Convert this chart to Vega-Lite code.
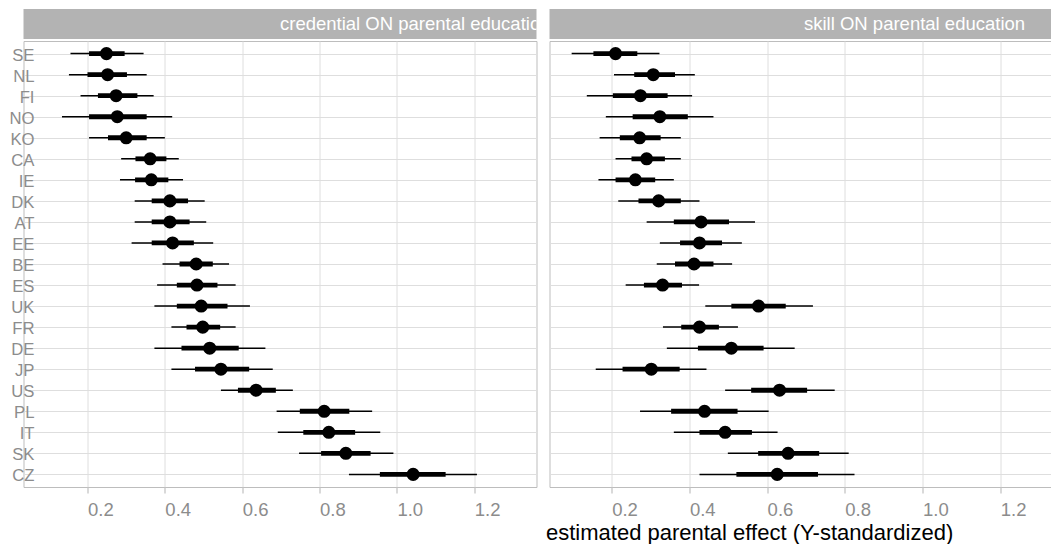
{
  "$schema": "https://vega.github.io/schema/vega-lite/v6.json",
  "padding": {"left": 7.5, "top": 9, "right": 0, "bottom": 0},
  "background": "white",
  "config": {
    "font": "Liberation Sans",
    "view": {"stroke": "#BDBDBD", "strokeWidth": 1}
  },
  "datasets": {
    "panels": [
      {"panel": "credential ON parental education"},
      {"panel": "skill ON parental education"}
    ],
    "estimates": [
      {"panel": "credential", "country": "SE", "est": 0.249, "lo95": 0.156, "hi95": 0.345, "lo68": 0.204, "hi68": 0.296},
      {"panel": "credential", "country": "NL", "est": 0.252, "lo95": 0.152, "hi95": 0.353, "lo68": 0.200, "hi68": 0.302},
      {"panel": "credential", "country": "FI", "est": 0.274, "lo95": 0.182, "hi95": 0.371, "lo68": 0.227, "hi68": 0.329},
      {"panel": "credential", "country": "NO", "est": 0.277, "lo95": 0.134, "hi95": 0.419, "lo68": 0.204, "hi68": 0.353},
      {"panel": "credential", "country": "KO", "est": 0.300, "lo95": 0.204, "hi95": 0.400, "lo68": 0.253, "hi68": 0.353},
      {"panel": "credential", "country": "CA", "est": 0.362, "lo95": 0.287, "hi95": 0.436, "lo68": 0.324, "hi68": 0.404},
      {"panel": "credential", "country": "IE", "est": 0.365, "lo95": 0.284, "hi95": 0.447, "lo68": 0.323, "hi68": 0.409},
      {"panel": "credential", "country": "DK", "est": 0.413, "lo95": 0.322, "hi95": 0.503, "lo68": 0.366, "hi68": 0.460},
      {"panel": "credential", "country": "AT", "est": 0.413, "lo95": 0.322, "hi95": 0.507, "lo68": 0.366, "hi68": 0.464},
      {"panel": "credential", "country": "EE", "est": 0.420, "lo95": 0.314, "hi95": 0.525, "lo68": 0.366, "hi68": 0.475},
      {"panel": "credential", "country": "BE", "est": 0.481, "lo95": 0.394, "hi95": 0.566, "lo68": 0.438, "hi68": 0.524},
      {"panel": "credential", "country": "ES", "est": 0.483, "lo95": 0.380, "hi95": 0.583, "lo68": 0.431, "hi68": 0.536},
      {"panel": "credential", "country": "UK", "est": 0.494, "lo95": 0.373, "hi95": 0.620, "lo68": 0.431, "hi68": 0.562},
      {"panel": "credential", "country": "FR", "est": 0.498, "lo95": 0.417, "hi95": 0.583, "lo68": 0.456, "hi68": 0.543},
      {"panel": "credential", "country": "DE", "est": 0.516, "lo95": 0.373, "hi95": 0.660, "lo68": 0.443, "hi68": 0.591},
      {"panel": "credential", "country": "JP", "est": 0.545, "lo95": 0.417, "hi95": 0.679, "lo68": 0.478, "hi68": 0.618},
      {"panel": "credential", "country": "US", "est": 0.636, "lo95": 0.545, "hi95": 0.731, "lo68": 0.589, "hi68": 0.687},
      {"panel": "credential", "country": "PL", "est": 0.812, "lo95": 0.689, "hi95": 0.936, "lo68": 0.749, "hi68": 0.877},
      {"panel": "credential", "country": "IT", "est": 0.824, "lo95": 0.692, "hi95": 0.957, "lo68": 0.758, "hi68": 0.892},
      {"panel": "credential", "country": "SK", "est": 0.868, "lo95": 0.747, "hi95": 0.991, "lo68": 0.804, "hi68": 0.932},
      {"panel": "credential", "country": "CZ", "est": 1.042, "lo95": 0.876, "hi95": 1.207, "lo68": 0.956, "hi68": 1.126},
      {"panel": "skill", "country": "SE", "est": 0.210, "lo95": 0.097, "hi95": 0.323, "lo68": 0.153, "hi68": 0.266},
      {"panel": "skill", "country": "NL", "est": 0.307, "lo95": 0.206, "hi95": 0.414, "lo68": 0.258, "hi68": 0.363},
      {"panel": "skill", "country": "FI", "est": 0.274, "lo95": 0.136, "hi95": 0.407, "lo68": 0.203, "hi68": 0.344},
      {"panel": "skill", "country": "NO", "est": 0.324, "lo95": 0.185, "hi95": 0.462, "lo68": 0.254, "hi68": 0.396},
      {"panel": "skill", "country": "KO", "est": 0.272, "lo95": 0.169, "hi95": 0.378, "lo68": 0.221, "hi68": 0.326},
      {"panel": "skill", "country": "CA", "est": 0.290, "lo95": 0.210, "hi95": 0.378, "lo68": 0.251, "hi68": 0.337},
      {"panel": "skill", "country": "IE", "est": 0.261, "lo95": 0.166, "hi95": 0.360, "lo68": 0.210, "hi68": 0.312},
      {"panel": "skill", "country": "DK", "est": 0.321, "lo95": 0.217, "hi95": 0.426, "lo68": 0.269, "hi68": 0.378},
      {"panel": "skill", "country": "AT", "est": 0.430, "lo95": 0.290, "hi95": 0.569, "lo68": 0.360, "hi68": 0.502},
      {"panel": "skill", "country": "EE", "est": 0.426, "lo95": 0.324, "hi95": 0.535, "lo68": 0.376, "hi68": 0.484},
      {"panel": "skill", "country": "BE", "est": 0.412, "lo95": 0.316, "hi95": 0.510, "lo68": 0.363, "hi68": 0.462},
      {"panel": "skill", "country": "ES", "est": 0.331, "lo95": 0.236, "hi95": 0.425, "lo68": 0.283, "hi68": 0.381},
      {"panel": "skill", "country": "UK", "est": 0.578, "lo95": 0.441, "hi95": 0.718, "lo68": 0.508, "hi68": 0.648},
      {"panel": "skill", "country": "FR", "est": 0.426, "lo95": 0.332, "hi95": 0.525, "lo68": 0.379, "hi68": 0.476},
      {"panel": "skill", "country": "DE", "est": 0.508, "lo95": 0.342, "hi95": 0.671, "lo68": 0.422, "hi68": 0.591},
      {"panel": "skill", "country": "JP", "est": 0.302, "lo95": 0.159, "hi95": 0.444, "lo68": 0.228, "hi68": 0.375},
      {"panel": "skill", "country": "US", "est": 0.632, "lo95": 0.492, "hi95": 0.774, "lo68": 0.559, "hi68": 0.703},
      {"panel": "skill", "country": "PL", "est": 0.439, "lo95": 0.273, "hi95": 0.604, "lo68": 0.353, "hi68": 0.524},
      {"panel": "skill", "country": "IT", "est": 0.492, "lo95": 0.360, "hi95": 0.627, "lo68": 0.426, "hi68": 0.561},
      {"panel": "skill", "country": "SK", "est": 0.654, "lo95": 0.499, "hi95": 0.810, "lo68": 0.577, "hi68": 0.734},
      {"panel": "skill", "country": "CZ", "est": 0.626, "lo95": 0.426, "hi95": 0.825, "lo68": 0.521, "hi68": 0.731}
    ]
  },
  "spacing": 7,
  "hconcat": [
    {
      "spacing": 1,
      "vconcat": [
        {
          "width": 513,
          "height": 30,
          "view": {"fill": "#B3B3B3", "stroke": null},
          "data": {"name": "panels"},
          "transform": [{"filter": "datum.panel === 'credential ON parental education'"}],
          "mark": {"type": "text", "align": "left", "baseline": "middle", "color": "white", "fontSize": 18.5, "clip": true},
          "encoding": {"text": {"field": "panel"}}
        },
        {
          "width": 513,
          "height": 446,
          "data": {"name": "estimates"},
          "transform": [{"filter": "datum.panel === 'credential'"}],
          "encoding": {
            "y": {
              "field": "country", "type": "nominal",
              "sort": ["SE","NL","FI","NO","KO","CA","IE","DK","AT","EE","BE","ES","UK","FR","DE","JP","US","PL","IT","SK","CZ"],
              "scale": {"type": "point", "padding": 0.6},
              "axis": {"title": null, "ticks": false, "domain": false, "grid": true, "gridColor": "#DEDEDE", "gridWidth": 1, "labelFontSize": 16.7, "labelColor": "#8C8C8C", "labelPadding": -10.5, "labelOffset": 1.5}
            }
          },
          "layer": [
            {
              "mark": {"type": "rule", "strokeWidth": 1.5, "color": "black"},
              "encoding": {
                "x": {
                  "field": "lo95", "type": "quantitative",
                  "scale": {"domain": [0.0345, 1.361], "nice": false, "zero": false},
                  "axis": {"title": null, "values": [0.2, 0.4, 0.6, 0.8, 1.0, 1.2], "format": ".1f", "labelAlign": "left", "labelFlush": false, "labelFontSize": 18.5, "labelColor": "#8C8C8C", "tickColor": "#B3B3B3", "tickSize": 6, "domain": false, "grid": true, "gridColor": "#DEDEDE", "labelPadding": 7}
                },
                "x2": {"field": "hi95"}
              }
            },
            {
              "mark": {"type": "rule", "strokeWidth": 4.8, "color": "black"},
              "encoding": {"x": {"field": "lo68", "type": "quantitative"}, "x2": {"field": "hi68"}}
            },
            {
              "mark": {"type": "circle", "size": 170, "opacity": 1, "color": "black"},
              "encoding": {"x": {"field": "est", "type": "quantitative"}}
            }
          ]
        }
      ]
    },
    {
      "spacing": 1,
      "vconcat": [
        {
          "width": 509,
          "height": 30,
          "view": {"fill": "#B3B3B3", "stroke": null},
          "data": {"name": "panels"},
          "transform": [{"filter": "datum.panel === 'skill ON parental education'"}],
          "mark": {"type": "text", "align": "left", "baseline": "middle", "color": "white", "fontSize": 18.5, "clip": true},
          "encoding": {"text": {"field": "panel"}}
        },
        {
          "width": 509,
          "height": 446,
          "data": {"name": "estimates"},
          "transform": [{"filter": "datum.panel === 'skill'"}],
          "encoding": {
            "y": {
              "field": "country", "type": "nominal",
              "sort": ["SE","NL","FI","NO","KO","CA","IE","DK","AT","EE","BE","ES","UK","FR","DE","JP","US","PL","IT","SK","CZ"],
              "scale": {"type": "point", "padding": 0.6},
              "axis": {"title": null, "ticks": false, "domain": false, "labels": false, "grid": true, "gridColor": "#DEDEDE", "gridWidth": 1}
            }
          },
          "layer": [
            {
              "mark": {"type": "rule", "strokeWidth": 1.5, "color": "black"},
              "encoding": {
                "x": {
                  "field": "lo95", "type": "quantitative",
                  "scale": {"domain": [0.040, 1.350], "nice": false, "zero": false},
                  "axis": {"title": "estimated parental effect (Y-standardized)", "titleFontSize": 22, "titleFontWeight": "normal", "titleColor": "black", "titleAnchor": "start", "titleAlign": "left", "titleX": -4, "titlePadding": 4, "values": [0.2, 0.4, 0.6, 0.8, 1.0, 1.2], "format": ".1f", "labelAlign": "left", "labelFlush": false, "labelFontSize": 18.5, "labelColor": "#8C8C8C", "tickColor": "#B3B3B3", "tickSize": 6, "domain": false, "grid": true, "gridColor": "#DEDEDE", "labelPadding": 7}
                },
                "x2": {"field": "hi95"}
              }
            },
            {
              "mark": {"type": "rule", "strokeWidth": 4.8, "color": "black"},
              "encoding": {"x": {"field": "lo68", "type": "quantitative"}, "x2": {"field": "hi68"}}
            },
            {
              "mark": {"type": "circle", "size": 170, "opacity": 1, "color": "black"},
              "encoding": {"x": {"field": "est", "type": "quantitative"}}
            }
          ]
        }
      ]
    }
  ]
}
